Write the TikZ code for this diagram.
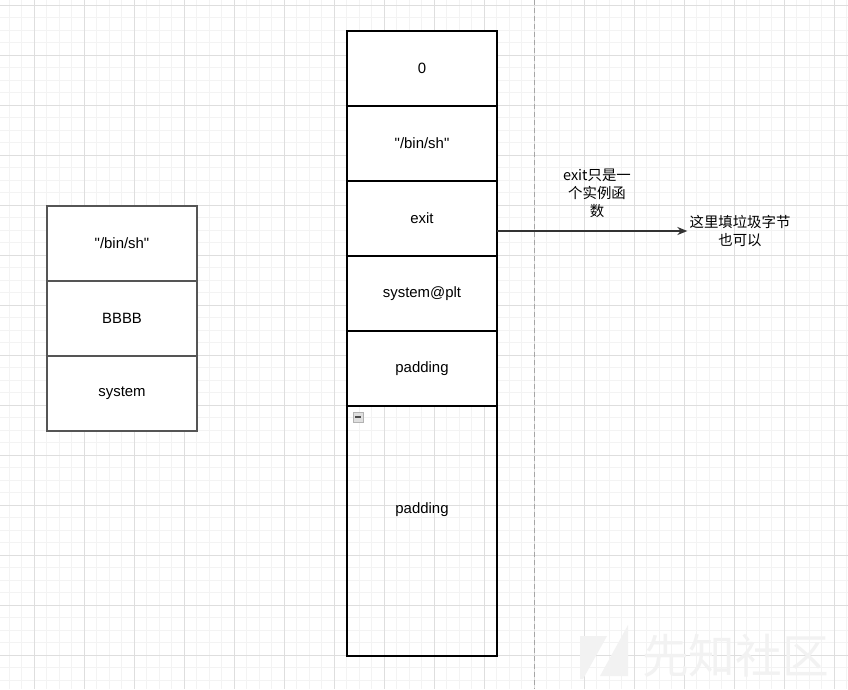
\documentclass[tikz,border=0pt]{standalone}
\usepackage{fontspec}
\setmainfont{Liberation Sans}[Ligatures=TeXOff]
\newfontfamily\cjk{Noto Sans CJK SC}
\usetikzlibrary{arrows.meta}
\definecolor{minorgrid}{HTML}{F3F3F3}
\definecolor{majorgrid}{HTML}{DEDEDE}
\definecolor{leftedge}{HTML}{555555}
\definecolor{arrowcol}{HTML}{333333}
\definecolor{wmark}{HTML}{F2F2F2}
\tikzset{
  cell/.style={draw=black, line width=1.1pt, fill=white, minimum width=112.5pt, minimum height=56.25pt, inner sep=0pt, outer sep=0pt, font=\fontsize{11.2}{13}\selectfont},
  lcell/.style={cell, draw=leftedge},
  tallcell/.style={cell, fill=none, minimum height=187.5pt},
  note/.style={align=center, inner sep=1.5pt, font=\cjk\fontsize{10.8}{13.5}\selectfont},
  conn/.style={draw=arrowcol, line width=1pt, -{Stealth[length=7.5pt,width=6pt]}}
}
\begin{document}
\begin{tikzpicture}[x=0.75pt, y=-0.75pt]
\useasboundingbox (0,0) rectangle (848,689);
\fill[white] (0,0) rectangle (848,689);
% grid
\foreach \i in {0,...,68} {
  \draw[minorgrid, line width=0.75pt] ({9.3+12.5*\i},0) -- ({9.3+12.5*\i},689);
}
\foreach \i in {0,...,55} {
  \draw[minorgrid, line width=0.75pt] (0,{5+12.5*\i}) -- (848,{5+12.5*\i});
}
\foreach \i in {0,...,16} {
  \draw[majorgrid, line width=0.75pt] ({34.3+50*\i},0) -- ({34.3+50*\i},689);
}
\foreach \i in {0,...,13} {
  \draw[majorgrid, line width=0.75pt] (0,{5+50*\i}) -- (848,{5+50*\i});
}
% dashed page line
\draw[gray!70, line width=0.75pt, dash pattern=on 4pt off 2pt] (534.3,0) -- (534.3,689);
% watermark
\fill[wmark] (580,636) -- (607,636) -- (583,679) -- (580,679) -- cycle;
\fill[wmark] (628,625) -- (628,676) -- (600,676) -- cycle;
\node[font=\cjk\fontsize{35}{35}\selectfont, text=wmark, anchor=west, inner sep=0pt] (wm) at (642,656) {先知社区};
% left column
\node[lcell] (l1) at (122,243.5) {"/bin/sh"};
\node[lcell] (l2) at (122,318.5) {BBBB};
\node[lcell] (l3) at (122,393.5) {system};
% middle column
\node[cell] (m1) at (422,68.5) {0};
\node[cell] (m2) at (422,143.5) {"/bin/sh"};
\node[cell] (m3) at (422,218.5) {exit};
\node[cell] (m4) at (422,293.5) {system@plt};
\node[cell] (m5) at (422,368.5) {padding};
\node[tallcell] (m6) at (422,531) {};
\node[font=\fontsize{11.2}{13}\selectfont, inner sep=0pt] (m6t) at (422,510) {padding};
% collapse icon
\draw[gray!60, fill=gray!25, line width=0.5pt] (353,412) rectangle (363,422);
\draw[black!70, line width=1pt] (355,417) -- (361,417);
% connector and labels
\coordinate (m3r) at (497,231);
\node[note] (t2) at (740,231) {这里填垃圾字节\\也可以};
\draw[conn] (m3r) -- (t2.west);
\node[note] (t1) at (597,193) {exit只是一\\个实例函\\数};
\end{tikzpicture}
\end{document}
